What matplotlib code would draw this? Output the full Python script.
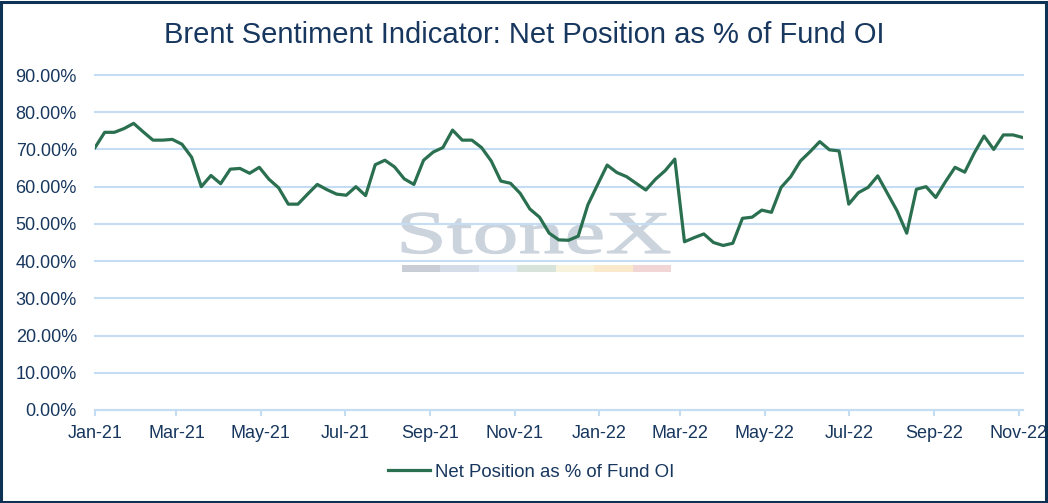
"""Brent sentiment indicator: net position as % of fund open interest."""

import matplotlib

matplotlib.use("Agg")
import matplotlib.dates as mdates
import matplotlib.pyplot as plt
import numpy as np
import pandas as pd
from matplotlib.font_manager import FontProperties
from matplotlib.patches import PathPatch, Rectangle
from matplotlib.textpath import TextPath
from matplotlib.ticker import PercentFormatter
from matplotlib.transforms import Affine2D

START_DATE = "2021-01-01"
NET_POSITION_PCT = [
    70.5, 74.6, 74.6, 75.6, 77.0, 74.7, 72.5, 72.5, 72.7, 71.4,
    67.9, 60.0, 63.0, 60.8, 64.7, 64.9, 63.6, 65.2, 62.0, 59.7,
    55.3, 55.3, 58.0, 60.6, 59.2, 58.0, 57.7, 60.0, 57.6, 65.9,
    67.1, 65.3, 62.1, 60.6, 67.1, 69.3, 70.5, 75.2, 72.5, 72.5,
    70.5, 66.9, 61.5, 60.9, 58.2, 54.0, 51.8, 47.5, 45.7, 45.6,
    46.7, 55.1, 60.5, 65.8, 63.8, 62.7, 60.9, 59.1, 62.0, 64.3,
    67.4, 45.2, 46.3, 47.3, 45.0, 44.2, 44.8, 51.5, 51.8, 53.7,
    53.1, 59.8, 62.7, 66.9, 69.4, 72.1, 69.9, 69.6, 55.3, 58.4,
    59.8, 62.9, 58.2, 53.5, 47.5, 59.3, 60.0, 57.1, 61.3, 65.2,
    63.9, 69.1, 73.6, 70.0, 73.9, 73.9, 73.2,
]
SERIES_LABEL = "Net Position as % of Fund OI"
TITLE = "Brent Sentiment Indicator: Net Position as % of Fund OI"
WATERMARK = "StoneX"
WATERMARK_BAR_COLOURS = [
    "#c9ced6", "#d3dce7", "#e2edf7", "#d6e4db", "#f8f3dc", "#fbe9cb", "#f2d5d5",
]

NAVY = "#17375e"
GRID = "#c5ddf2"
LINE = "#2a6f4f"

plt.rcParams["font.family"] = ["Liberation Sans", "DejaVu Sans"]

dates = pd.date_range(START_DATE, periods=len(NET_POSITION_PCT), freq="7D")

fig = plt.figure(figsize=(10.48, 5.03), dpi=100)
ax = fig.add_axes([95 / 1048, 1 - 410 / 503, 927.7 / 1048, 335 / 503])
ax.set_facecolor("none")

# watermark drawn in pixel space behind the axes, squeezed to the logo's proportions
font = FontProperties(family="Liberation Serif")
path = TextPath((0, 0), WATERMARK, size=100, prop=font)
bbox = path.get_extents()
sx = 268 / bbox.width
sy = 40 / 66.0
placement = Affine2D().translate(-bbox.x0, 0).scale(sx, sy).translate(402, 503 - 253)
fig.patches.append(
    PathPatch(path, transform=placement, facecolor="#cbd3dd", edgecolor="#cbd3dd",
              linewidth=0.8, zorder=-1)
)
bar_width = 269 / len(WATERMARK_BAR_COLOURS)
for index, colour in enumerate(WATERMARK_BAR_COLOURS):
    fig.patches.append(
        Rectangle(
            ((402 + index * bar_width) / 1048, 1 - 272 / 503),
            bar_width / 1048,
            7 / 503,
            transform=fig.transFigure,
            facecolor=colour,
            edgecolor="none",
            zorder=-1,
        )
    )

ax.plot(dates, NET_POSITION_PCT, color=LINE, linewidth=2.3, label=SERIES_LABEL, zorder=3)

ax.set_ylim(0, 90)
ax.set_yticks(np.arange(0, 91, 10))
ax.yaxis.set_major_formatter(PercentFormatter(xmax=100, decimals=2))
ax.set_xlim(dates[0], dates[-1])
ax.xaxis.set_major_locator(mdates.MonthLocator(bymonth=[1, 3, 5, 7, 9, 11]))
ax.xaxis.set_major_formatter(mdates.DateFormatter("%b-%y"))

ax.grid(axis="y", color=GRID, linewidth=1.5)
for gridline in ax.get_ygridlines():
    gridline.set_clip_on(False)
ax.set_axisbelow(True)
for side in ("left", "right", "top"):
    ax.spines[side].set_visible(False)
ax.spines["bottom"].set_color(GRID)
ax.spines["bottom"].set_linewidth(1.5)
ax.tick_params(axis="y", length=0, pad=13, labelsize=13, labelcolor=NAVY)
ax.tick_params(axis="x", length=4, width=1.5, color=GRID, pad=7, labelsize=13, labelcolor=NAVY)

fig.text(0.5, 1 - 35 / 503, TITLE, ha="center", va="center", fontsize=21, color=NAVY)
fig.legend(
    loc="center",
    bbox_to_anchor=(0.507, 1 - 472 / 503),
    frameon=False,
    fontsize=13.4,
    labelcolor=NAVY,
    handlelength=2.25,
    handletextpad=0.3,
)

fig.patches.append(
    Rectangle(
        (1 / 1048, 1 / 503), 1045 / 1048, 500 / 503,
        transform=fig.transFigure, fill=False, edgecolor="#0e3253", linewidth=2.2, zorder=5,
    )
)

fig.savefig("out.png", dpi=100)
